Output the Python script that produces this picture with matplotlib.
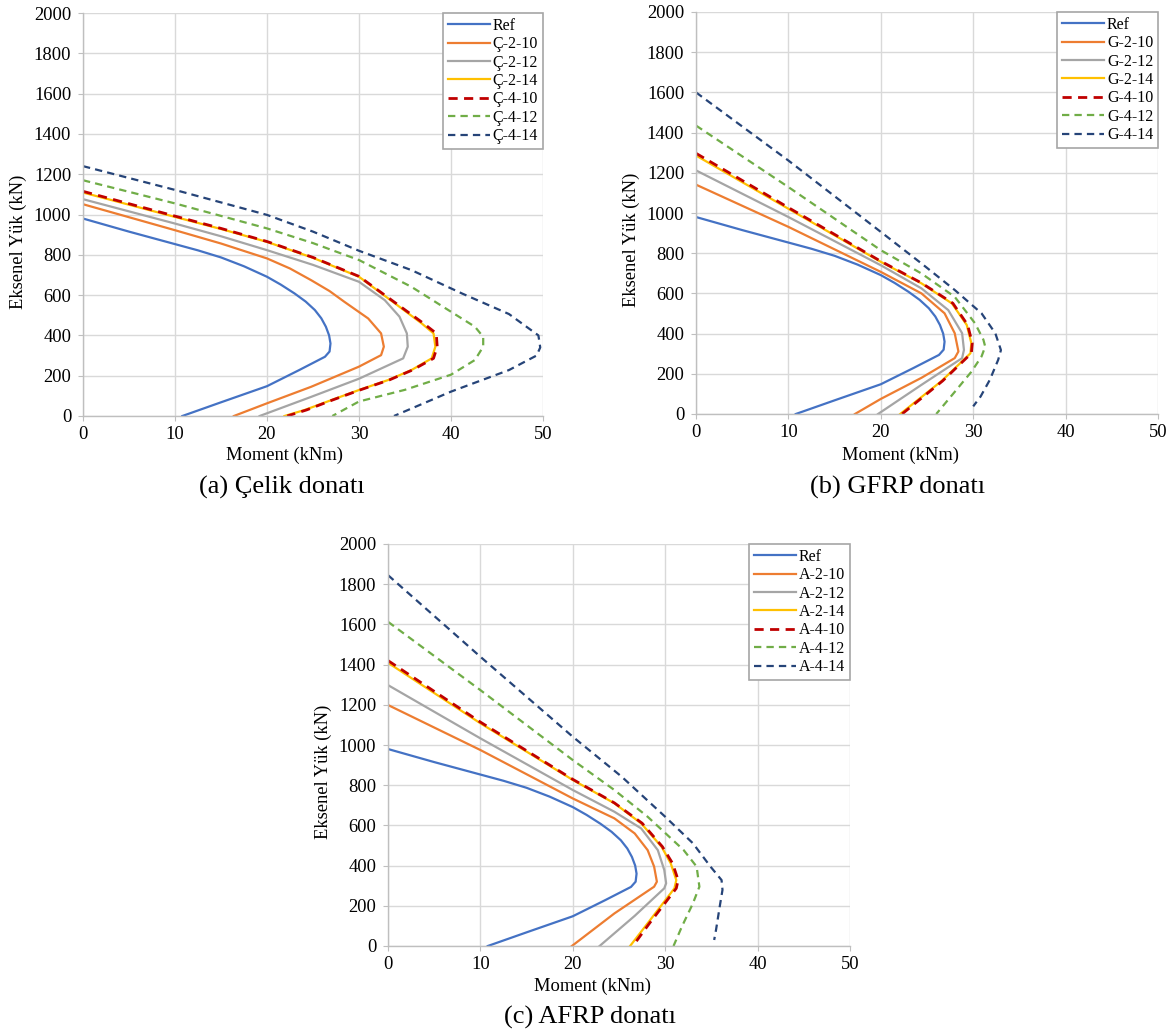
import matplotlib
matplotlib.use("Agg")
import matplotlib.pyplot as plt

plt.rcParams['font.family'] = ['Liberation Serif', 'DejaVu Serif']

# reference curve (same in every panel)
ref_m = [0, 5, 10, 12.5, 15, 17.5, 20, 21.5, 23, 24.2, 25.2, 25.9, 26.4, 26.75, 26.9, 26.8, 26.3,
         23.5, 20, 15, 10.8]
ref_p = [980, 915, 853, 822, 787, 743, 691, 652, 608, 568, 526, 485, 443, 400, 360, 320, 294,
         228, 148, 68, 0]

# (a) steel
c210_m = [0, 10, 15, 20, 22.5, 24.8, 26.8, 28.4, 31, 32.4, 32.7, 32.4, 30, 24.8, 20, 16.4]
c210_p = [1051, 922, 856, 782, 732, 674, 620, 567, 484, 410, 344, 302, 245, 145, 63, 0]
c212_m = [0, 10, 15, 20, 25, 30, 32.8, 34.4, 35.2, 35.3, 34.8, 30, 24.8, 19.2]
c212_p = [1076, 955, 892, 823, 750, 666, 575, 493, 410, 344, 286, 185, 95, 0]
c214_m = [0, 10, 15, 20, 25, 30, 33.9, 36.8, 38.1, 38.3, 37.9, 35.7, 33.2, 30, 27, 24.1, 21.9]
c214_p = [1109, 988, 928, 864, 785, 691, 559, 460, 410, 344, 286, 228, 179, 129, 79, 30, 0]
c410_m = [0, 10, 15, 20, 25, 30, 34.0, 37.0, 38.4, 38.5, 38.1, 35.8, 33.3, 30.1, 27.1, 24.3, 22.2]
c410_p = [1115, 992, 931, 866, 787, 693, 560, 460, 410, 344, 286, 228, 179, 129, 79, 30, 0]
c412_m = [0, 10, 20, 25, 30, 35.7, 39.7, 42.6, 43.5, 43.5, 42.6, 40, 35, 30, 27.1]
c412_p = [1170, 1055, 931, 858, 774, 641, 526, 443, 393, 344, 278, 205, 130, 72, 0]
c414_m = [0, 10, 20, 25, 30, 35.7, 41.2, 46.3, 49.5, 49.7, 49.3, 46.3, 40, 33.8]
c414_p = [1240, 1122, 998, 915, 820, 724, 608, 506, 400, 340, 300, 228, 121, 0]

# (b) GFRP
g210_m = [0, 10, 20, 24.4, 26.9, 28, 28.4, 28, 24.4, 20, 17.2]
g210_p = [1141, 931, 707, 600, 501, 402, 311, 278, 180, 75, 0]
g212_m = [0, 10, 20, 24.4, 27.3, 28.8, 29, 28.8, 24.4, 19.7]
g212_p = [1212, 980, 740, 625, 517, 402, 319, 278, 145, 0]
g214_m = [0, 10, 20, 24.4, 27.7, 29.3, 29.8, 29.7, 26.6, 22.1]
g214_p = [1286, 1021, 757, 650, 550, 443, 352, 302, 165, 0]
g410_m = [0, 10, 20, 24.4, 27.8, 29.4, 29.9, 29.8, 26.7, 22.3]
g410_p = [1297, 1027, 760, 652, 551, 443, 352, 302, 165, 0]
g412_m = [0, 10, 20, 24.4, 28, 30.2, 31.1, 31.3, 30.9, 29.8, 28, 26]
g412_p = [1435, 1129, 815, 699, 583, 451, 370, 335, 286, 210, 110, 0]
g414_m = [0, 10, 20, 24.4, 28, 30.9, 32.4, 33, 32.7, 31.8, 30.8, 30]
g414_p = [1600, 1261, 906, 749, 617, 501, 401, 318, 269, 170, 87, 38]

# (c) AFRP
a210_m = [0, 10, 20, 24.5, 26.7, 28.1, 28.8, 29.1, 28.8, 24.5, 19.9]
a210_p = [1199, 975, 734, 635, 560, 477, 395, 320, 295, 162, 0]
a212_m = [0, 10, 20, 24.5, 27.4, 29.2, 29.9, 30.1, 29.9, 26.7, 22.9]
a212_p = [1298, 1033, 776, 668, 585, 477, 378, 312, 287, 150, 0]
a214_m = [0, 10, 20, 24.5, 27.4, 29.6, 30.6, 31.2, 31, 28.1, 26.2]
a214_p = [1409, 1108, 826, 710, 610, 494, 411, 328, 287, 113, 0]
a410_m = [0, 10, 20, 24.5, 27.5, 29.7, 30.8, 31.4, 31.2, 28.3, 26.5]
a410_p = [1420, 1114, 829, 712, 611, 494, 411, 328, 287, 113, 0]
a412_m = [0, 10, 20, 24.5, 28.1, 32, 33.4, 33.7, 33, 31.8, 30.9]
a412_p = [1613, 1273, 925, 776, 643, 477, 395, 295, 212, 96, 0]
a414_m = [0, 10, 20, 25.3, 30, 33, 34.9, 36.1, 36.2, 35.9, 35.5, 35.3]
a414_p = [1845, 1439, 1041, 842, 643, 511, 395, 328, 279, 196, 80, 30]

suffixes = ['2-10', '2-12', '2-14', '4-10', '4-12', '4-14']
colors = ['#ED7D31', '#A5A5A5', '#FFC000', '#C00000', '#70AD47', '#264478']
dashed = [False, False, False, True, True, True]

panels = [
    ('Ç', [(c210_m, c210_p), (c212_m, c212_p), (c214_m, c214_p),
           (c410_m, c410_p), (c412_m, c412_p), (c414_m, c414_p)]),
    ('G', [(g210_m, g210_p), (g212_m, g212_p), (g214_m, g214_p),
           (g410_m, g410_p), (g412_m, g412_p), (g414_m, g414_p)]),
    ('A', [(a210_m, a210_p), (a212_m, a212_p), (a214_m, a214_p),
           (a410_m, a410_p), (a412_m, a412_p), (a414_m, a414_p)]),
]
captions = ['(a) Çelik donatı', '(b) GFRP donatı', '(c) AFRP donatı']

W, H = 1172, 1032
fig = plt.figure(figsize=(W / 100, H / 100), dpi=100)

# axes boxes in pixels: left, top, right, bottom
boxes = [(83, 13, 543, 416), (696, 12, 1158, 414), (388, 544, 850, 946)]
# xlabel, caption, ylabel centers in pixels
xlab_pos = [(285, 455), (901, 455), (592, 986)]
cap_pos = [(282, 487), (898, 487), (590, 1017)]
ylab_pos = [(18, 242), (631, 240), (323, 772)]

grid_c = '#D9D9D9'
for i, (prefix, series) in enumerate(panels):
    l, t, r, b = boxes[i]
    ax = fig.add_axes([l / W, 1 - b / H, (r - l) / W, (b - t) / H])
    ax.plot(ref_m, ref_p, color='#4472C4', lw=1.6, label='Ref')
    for (m, p), s, c, d in zip(series, suffixes, colors, dashed):
        if d:
            lw = 2.0 if s == '4-10' else 1.6
            ax.plot(m, p, color=c, lw=lw, linestyle=(0, (3.3, 2.3)), label=prefix + '-' + s)
        else:
            ax.plot(m, p, color=c, lw=1.6, label=prefix + '-' + s)
    ax.set_xlim(0, 50)
    ax.set_ylim(0, 2000)
    ax.set_xticks(range(0, 51, 10))
    ax.set_yticks(range(0, 2001, 200))
    ax.grid(True, color=grid_c, lw=1.0)
    ax.set_axisbelow(True)
    for sp in ['top', 'right']:
        ax.spines[sp].set_visible(False)
    for sp in ['left', 'bottom']:
        ax.spines[sp].set_color('#BFBFBF')
        ax.spines[sp].set_linewidth(1.0)
    ax.tick_params(axis='both', length=3.5, color='#BFBFBF', labelsize=13.3)
    ax.tick_params(axis='y', pad=5)
    ax.tick_params(axis='x', pad=4)
    leg = ax.legend(loc='upper right', bbox_to_anchor=(1.0, 1.0), borderaxespad=0,
                    fontsize=11.5, handlelength=2.6, handletextpad=0.2,
                    labelspacing=0.15, borderpad=0.3, fancybox=False,
                    framealpha=1, edgecolor='#A6A6A6')
    leg.get_frame().set_linewidth(1.2)
    fig.text(xlab_pos[i][0] / W, 1 - xlab_pos[i][1] / H, 'Moment (kNm)',
             ha='center', va='center', fontsize=13.3)
    fig.text(cap_pos[i][0] / W, 1 - cap_pos[i][1] / H, captions[i],
             ha='center', va='center', fontsize=19)
    fig.text(ylab_pos[i][0] / W, 1 - ylab_pos[i][1] / H, 'Eksenel Yük (kN)',
             ha='center', va='center', rotation=90, fontsize=13.3)

fig.savefig('out.png', dpi=100, facecolor='white')
